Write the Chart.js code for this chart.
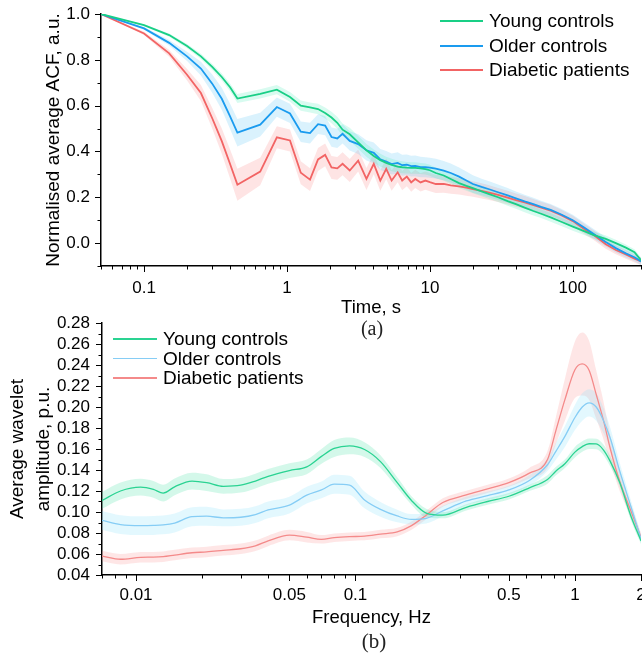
<!DOCTYPE html>
<html>
<head>
<meta charset="utf-8">
<script src="https://cdn.jsdelivr.net/npm/chart.js@4.4.1/dist/chart.umd.min.js"></script>
<style>
  body { margin: 0; background: #fff; }
  #page { position: relative; width: 642px; height: 654px; overflow: hidden; font-family: "Liberation Sans", Arial, sans-serif; }
  #acf { position: absolute; left: 0; top: 0; }
  #wav { position: absolute; left: 0; top: 300px; }
  .row { position: absolute; height: 24px; line-height: 24px; display: flex; align-items: center; white-space: nowrap; color: #000; }
  .row span { display: inline-block; }
  .cap { position: absolute; width: 200px; text-align: center; font-family: "Liberation Serif", "Times New Roman", serif; color: #222; line-height: 24px; }
</style>
</head>
<body>
<div id="page">
  <canvas id="acf" width="642" height="322"></canvas>
  <canvas id="wav" width="642" height="354"></canvas>
  <div id="legendA"></div>
  <div id="legendB"></div>
  <div class="cap" style="left:272px;top:316px;font-size:20px">(a)</div>
  <div class="cap" style="left:274px;top:629px;font-size:21px">(b)</div>
</div>
<script>
// ---- panel (a): normalised average ACF ----
const timeS = [0.05, 0.1, 0.15, 0.2, 0.25, 0.3, 0.35, 0.4, 0.45, 0.65, 0.85, 1.05, 1.25, 1.45, 1.65, 1.85, 2.05, 2.25, 2.45, 2.75,
  3.15, 3.6, 4.05, 4.5, 4.95, 5.4, 5.95, 6.4, 6.9, 7.4, 7.9, 8.6, 9.3, 10, 11, 12.5, 14, 16, 18, 20,
  23, 26, 30, 35, 40, 46, 53, 60, 70, 83, 100, 120, 140, 170, 200, 235, 270, 300];
const acfYoung = [1.0, 0.951, 0.908, 0.86, 0.815, 0.769, 0.725, 0.68, 0.631, 0.651, 0.670, 0.638, 0.600, 0.592, 0.585, 0.568, 0.548, 0.525, 0.495, 0.475,
  0.44, 0.405, 0.38, 0.362, 0.35, 0.341, 0.334, 0.331, 0.329, 0.328, 0.328, 0.326, 0.323, 0.318, 0.306, 0.295, 0.28, 0.262, 0.25, 0.24,
  0.226, 0.214, 0.2, 0.183, 0.17, 0.155, 0.14, 0.128, 0.112, 0.093, 0.072, 0.052, 0.035, 0.018, 0.0, -0.02, -0.04, -0.075];
const acfOlder = [1.0, 0.937, 0.874, 0.815, 0.762, 0.696, 0.63, 0.553, 0.482, 0.517, 0.594, 0.566, 0.486, 0.48, 0.519, 0.513, 0.463, 0.457, 0.477, 0.446,
  0.432, 0.405, 0.394, 0.365, 0.356, 0.345, 0.35, 0.34, 0.342, 0.336, 0.337, 0.332, 0.331, 0.329, 0.325, 0.316, 0.306, 0.29, 0.273, 0.258,
  0.245, 0.235, 0.222, 0.208, 0.195, 0.182, 0.17, 0.158, 0.145, 0.125, 0.1, 0.068, 0.04, 0.005, -0.022, -0.045, -0.062, -0.08];
const acfDiabetic = [1.0, 0.915, 0.828, 0.735, 0.655, 0.545, 0.445, 0.345, 0.255, 0.312, 0.462, 0.448, 0.307, 0.277, 0.365, 0.385, 0.33, 0.326, 0.346, 0.317,
  0.36, 0.28, 0.346, 0.273, 0.324, 0.273, 0.309, 0.273, 0.29, 0.265, 0.28, 0.265, 0.273, 0.266, 0.258, 0.258, 0.252, 0.248, 0.242, 0.236,
  0.228, 0.22, 0.21, 0.198, 0.188, 0.178, 0.166, 0.155, 0.142, 0.122, 0.096, 0.062, 0.035, -0.005, -0.03, -0.05, -0.068, -0.08];
const acfYoungSd = [0, 0.004, 0.007, 0.009, 0.011, 0.013, 0.015, 0.017, 0.02, 0.02, 0.02, 0.021, 0.022, 0.022, 0.023, 0.024, 0.025, 0.026, 0.027, 0.028,
  0.028, 0.028, 0.028, 0.028, 0.027, 0.027, 0.026, 0.026, 0.025, 0.025, 0.025, 0.024, 0.024, 0.024, 0.023, 0.023, 0.022, 0.022, 0.022, 0.022,
  0.021, 0.021, 0.021, 0.02, 0.02, 0.02, 0.02, 0.019, 0.019, 0.018, 0.018, 0.017, 0.016, 0.015, 0.015, 0.014, 0.013, 0.012];
const acfOlderSd = [0, 0.006, 0.012, 0.02, 0.03, 0.04, 0.048, 0.055, 0.06, 0.052, 0.042, 0.042, 0.045, 0.045, 0.043, 0.042, 0.042, 0.042, 0.042, 0.042,
  0.043, 0.044, 0.045, 0.046, 0.046, 0.046, 0.046, 0.046, 0.045, 0.045, 0.045, 0.045, 0.044, 0.044, 0.043, 0.042, 0.041, 0.04, 0.039, 0.038,
  0.036, 0.035, 0.034, 0.032, 0.03, 0.029, 0.028, 0.027, 0.026, 0.025, 0.024, 0.022, 0.021, 0.02, 0.019, 0.018, 0.017, 0.016];
const acfDiabeticSd = [0, 0.007, 0.015, 0.025, 0.035, 0.045, 0.055, 0.063, 0.07, 0.06, 0.048, 0.048, 0.05, 0.05, 0.05, 0.05, 0.05, 0.05, 0.05, 0.05,
  0.048, 0.048, 0.046, 0.045, 0.045, 0.044, 0.043, 0.042, 0.042, 0.041, 0.04, 0.04, 0.04, 0.04, 0.039, 0.038, 0.037, 0.036, 0.035, 0.034,
  0.033, 0.032, 0.031, 0.03, 0.029, 0.028, 0.027, 0.026, 0.025, 0.024, 0.023, 0.022, 0.021, 0.02, 0.019, 0.018, 0.017, 0.016];
const timeLabels = [0.1, 1, 10, 100];

// ---- panel (b): average wavelet amplitude ----
const freqHz = [0.007, 0.0085, 0.0105, 0.012, 0.0133, 0.015, 0.018, 0.021, 0.025, 0.03, 0.035, 0.04, 0.05, 0.06, 0.07, 0.08, 0.094, 0.11, 0.13, 0.155,
  0.18, 0.21, 0.25, 0.32, 0.4, 0.5, 0.62, 0.75, 0.82, 0.9, 1.0, 1.08, 1.16, 1.25, 1.35, 1.45, 1.6, 1.8, 2.0];
const ampYoung = [0.111, 0.120, 0.1236, 0.1215, 0.118, 0.124, 0.1295, 0.128, 0.1245, 0.1255, 0.1295, 0.134, 0.1395, 0.143, 0.153, 0.1605, 0.163, 0.1595, 0.148, 0.128,
  0.111, 0.099, 0.097, 0.1045, 0.110, 0.115, 0.123, 0.131, 0.139, 0.146, 0.157, 0.1623, 0.165, 0.1648, 0.159, 0.148, 0.128, 0.096, 0.0725];
const ampOlder = [0.092, 0.088, 0.087, 0.0872, 0.0877, 0.0895, 0.0955, 0.096, 0.0945, 0.095, 0.0975, 0.102, 0.1065, 0.116, 0.121, 0.1265, 0.1255, 0.1115, 0.1025, 0.0962,
  0.093, 0.094, 0.101, 0.1105, 0.1155, 0.121, 0.13, 0.145, 0.158, 0.172, 0.19, 0.2, 0.204, 0.2, 0.187, 0.17, 0.139, 0.105, 0.0745];
const ampDiabetic = [0.058, 0.055, 0.0568, 0.057, 0.0575, 0.059, 0.0612, 0.062, 0.0635, 0.065, 0.0678, 0.0725, 0.078, 0.076, 0.074, 0.0755, 0.0765, 0.077, 0.079, 0.081,
  0.087, 0.097, 0.109, 0.1163, 0.122, 0.128, 0.137, 0.15, 0.178, 0.207, 0.2355, 0.241, 0.235, 0.212, 0.187, 0.16, 0.129, 0.101, 0.076];
const ampYoungSd = [0.008, 0.008, 0.008, 0.008, 0.008, 0.008, 0.008, 0.008, 0.007, 0.007, 0.007, 0.007, 0.007, 0.007, 0.007, 0.008, 0.008, 0.007, 0.006, 0.005,
  0.004, 0.004, 0.003, 0.003, 0.003, 0.003, 0.003, 0.004, 0.004, 0.004, 0.005, 0.005, 0.005, 0.005, 0.005, 0.005, 0.004, 0.004, 0.003];
const ampOlderSd = [0.009, 0.009, 0.009, 0.009, 0.009, 0.009, 0.009, 0.009, 0.008, 0.008, 0.008, 0.008, 0.008, 0.008, 0.008, 0.009, 0.009, 0.008, 0.007, 0.006,
  0.005, 0.005, 0.005, 0.004, 0.004, 0.004, 0.005, 0.006, 0.008, 0.01, 0.012, 0.013, 0.013, 0.013, 0.012, 0.01, 0.008, 0.006, 0.004];
const ampDiabeticSd = [0.005, 0.005, 0.005, 0.005, 0.005, 0.005, 0.005, 0.005, 0.005, 0.005, 0.005, 0.005, 0.005, 0.005, 0.004, 0.004, 0.004, 0.004, 0.004, 0.004,
  0.004, 0.004, 0.004, 0.004, 0.004, 0.004, 0.005, 0.008, 0.013, 0.02, 0.027, 0.03, 0.028, 0.023, 0.018, 0.013, 0.009, 0.006, 0.004];
const freqLabels = [0.01, 0.05, 0.1, 0.5, 1, 2];

const groupNames = ['Young controls', 'Older controls', 'Diabetic patients'];

Chart.defaults.font.family = '"Liberation Sans", Arial, sans-serif';
Chart.defaults.color = '#000';

// 1..9 x 10^n tick positions inside [min, max]
function logTickValues(min, max) {
  const out = [];
  for (let e = -3; e <= 3; e++) {
    for (let m = 1; m <= 9; m++) {
      const v = +(m * Math.pow(10, e)).toPrecision(6);
      if (v >= min * 0.9999 && v <= max * 1.0001) out.push(v);
    }
  }
  return out;
}

function labelFor(list, v) {
  const hit = list.find(l => Math.abs(l - v) / l < 1e-6);
  return hit === undefined ? '' : String(hit);
}

function lineSet(xs, ys, color, width, smooth) {
  return {
    data: xs.map((x, i) => ({ x: x, y: ys[i] })),
    borderColor: color, borderWidth: width, pointRadius: 0, fill: false,
    tension: 0, cubicInterpolationMode: smooth ? 'monotone' : 'default', order: 1,
  };
}

function bandSets(xs, ys, sd, color, smooth) {
  const base = { borderColor: 'rgba(0,0,0,0)', borderWidth: 1, pointRadius: 0, tension: 0,
    cubicInterpolationMode: smooth ? 'monotone' : 'default', order: 2 };
  return [
    Object.assign({}, base, { data: xs.map((x, i) => ({ x: x, y: ys[i] + sd[i] })), fill: false }),
    Object.assign({}, base, { data: xs.map((x, i) => ({ x: x, y: ys[i] - sd[i] })), fill: '-1', backgroundColor: color }),
  ];
}

// outward tick marks, long where a label is shown
const tickMarks = {
  id: 'tickMarks',
  afterDraw(chart) {
    const ctx = chart.ctx;
    const xs = chart.scales.x, ys = chart.scales.y;
    ctx.save();
    ctx.strokeStyle = '#000';
    ctx.lineWidth = 1;
    ctx.beginPath();
    xs.ticks.forEach(t => {
      const p = Math.round(xs.getPixelForValue(t.value)) + 0.5;
      const len = t.label ? 6 : 3.5;
      ctx.moveTo(p, xs.top);
      ctx.lineTo(p, xs.top + len);
    });
    ys.ticks.forEach(t => {
      const p = Math.round(ys.getPixelForValue(t.value)) + 0.5;
      const len = t.label ? 6 : 3.5;
      ctx.moveTo(ys.right, p);
      ctx.lineTo(ys.right - len, p);
    });
    ctx.stroke();
    ctx.restore();
  }
};

const axisBorder = { display: true, color: '#000', width: 1.5 };
const noGrid = { display: false, drawTicks: false };

// ---------- chart (a) ----------
const colA = ['#19cf86', '#1a9bef', '#f26464'];
const bandA = ['rgba(60,235,180,0.20)', 'rgba(70,190,245,0.20)', 'rgba(250,120,120,0.20)'];
const acfSeries = [acfYoung, acfOlder, acfDiabetic];
const acfSd = [acfYoungSd, acfOlderSd, acfDiabeticSd];
const dsA = [];
acfSeries.forEach((s, k) => dsA.push(...bandSets(timeS, s, acfSd[k], bandA[k], false)));
acfSeries.forEach((s, k) => dsA.push(lineSet(timeS, s, colA[k], 1.8, false)));

new Chart(document.getElementById('acf'), {
  type: 'line',
  data: { datasets: dsA },
  options: {
    responsive: false, animation: false, devicePixelRatio: 1,
    layout: { padding: { top: 14, right: 1, left: 0, bottom: 0 } },
    plugins: { legend: { display: false }, tooltip: { enabled: false } },
    scales: {
      x: {
        type: 'logarithmic', min: 0.05, max: 300,
        grid: noGrid, border: axisBorder,
        afterBuildTicks: s => { s.ticks = logTickValues(0.05, 300).map(v => ({ value: v })); },
        afterFit: s => { s.height = 56; s.paddingLeft = 0; s.paddingRight = 0; },
        ticks: { autoSkip: false, maxRotation: 0, padding: 12, font: { size: 17 },
          callback: v => labelFor(timeLabels, v) },
        title: { display: true, text: 'Time, s', font: { size: 18.5 }, padding: { top: 0, bottom: 3 } },
      },
      y: {
        type: 'linear', min: -0.1, max: 1.0,
        grid: noGrid, border: axisBorder,
        afterFit: s => { s.width = 101; s.paddingTop = 0; s.paddingBottom = 0; },
        ticks: { stepSize: 0.1, maxTicksLimit: 40, autoSkip: false, padding: 11, font: { size: 17 },
          callback: v => {
            const k = Math.round(v * 10);
            return (k % 2 === 0 && k >= 0) ? (k / 10).toFixed(1) : '';
          } },
        title: { display: true, text: 'Normalised average ACF, a.u.', font: { size: 19 }, padding: { top: 42, bottom: 0 } },
      },
    },
  },
  plugins: [tickMarks],
});

// ---------- chart (b) ----------
const colB = ['#2ad392', '#86cdf5', '#f48a8a'];
const bandB = ['rgba(60,225,160,0.22)', 'rgba(140,225,250,0.24)', 'rgba(250,140,140,0.22)'];
const ampSeries = [ampYoung, ampOlder, ampDiabetic];
const ampSd = [ampYoungSd, ampOlderSd, ampDiabeticSd];
const dsB = [];
ampSeries.forEach((s, k) => dsB.push(...bandSets(freqHz, s, ampSd[k], bandB[k], true)));
ampSeries.forEach((s, k) => dsB.push(lineSet(freqHz, s, colB[k], 1.3, true)));

new Chart(document.getElementById('wav'), {
  type: 'line',
  data: { datasets: dsB },
  options: {
    responsive: false, animation: false, devicePixelRatio: 1,
    layout: { padding: { top: 23, right: 1, left: 0, bottom: 0 } },
    plugins: { legend: { display: false }, tooltip: { enabled: false } },
    scales: {
      x: {
        type: 'logarithmic', min: 0.007, max: 2,
        grid: noGrid, border: axisBorder,
        afterBuildTicks: s => { s.ticks = logTickValues(0.007, 2).map(v => ({ value: v })); },
        afterFit: s => { s.height = 79; s.paddingLeft = 0; s.paddingRight = 0; },
        ticks: { autoSkip: false, maxRotation: 0, padding: 10, font: { size: 17 },
          callback: v => labelFor(freqLabels, v) },
        title: { display: true, text: 'Frequency, Hz', font: { size: 18.5 }, padding: { top: 0, bottom: 25 } },
      },
      y: {
        type: 'linear', min: 0.04, max: 0.28,
        grid: noGrid, border: axisBorder,
        afterFit: s => { s.width = 102; s.paddingTop = 0; s.paddingBottom = 0; },
        ticks: { stepSize: 0.01, maxTicksLimit: 40, autoSkip: false, padding: 12, font: { size: 17 },
          callback: v => {
            const k = Math.round(v * 100);
            return k % 2 === 0 ? (k / 100).toFixed(2) : '';
          } },
        title: { display: true, text: ['Average wavelet', 'amplitude, p.u.'],
          font: { size: 19, lineHeight: 1.37 }, padding: { top: 5, bottom: 0 } },
      },
    },
  },
  plugins: [tickMarks],
});

// ---------- legends ----------
function buildLegend(id, names, colors, left, centers, lineW, lineH, fontSize) {
  const host = document.getElementById(id);
  names.forEach((n, i) => {
    const row = document.createElement('div');
    row.className = 'row';
    row.style.left = left + 'px';
    row.style.top = (centers[i] - 12) + 'px';
    row.style.fontSize = fontSize + 'px';
    const sw = document.createElement('span');
    sw.style.width = lineW + 'px';
    sw.style.height = lineH + 'px';
    sw.style.background = colors[i];
    sw.style.marginRight = '6px';
    const tx = document.createElement('span');
    tx.textContent = n;
    row.appendChild(sw);
    row.appendChild(tx);
    host.appendChild(row);
  });
}
buildLegend('legendA', groupNames, colA, 440, [21, 45.5, 70], 43, 2, 19);
buildLegend('legendB', groupNames, colB, 113, [339, 358.5, 378], 44, 1.5, 19);
</script>
</body>
</html>
